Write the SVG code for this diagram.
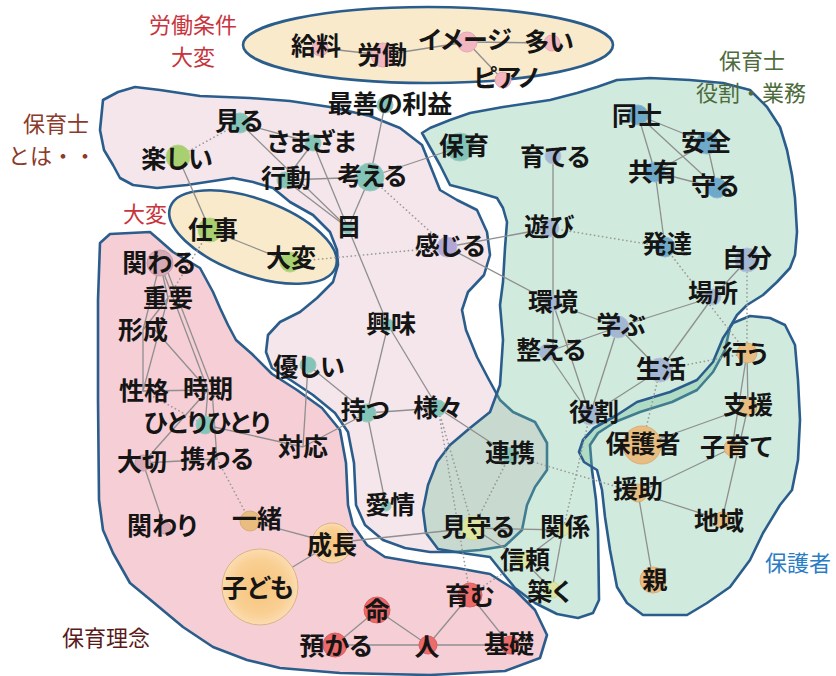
<svg xmlns="http://www.w3.org/2000/svg" width="836" height="676" viewBox="0 0 836 676">
<defs>
<radialGradient id="gOr" cx="50%" cy="50%" r="50%">
<stop offset="0" stop-color="#f7c47c"/><stop offset="0.7" stop-color="#f9cf93"/><stop offset="1" stop-color="#fcdcb0"/>
</radialGradient>
</defs>
<style>
.reg{stroke:#2b5d8c;stroke-width:2.6;stroke-linejoin:round}
.e{stroke:#8f8f8f;stroke-width:1.3;fill:none}
.d{stroke:#9a9a9a;stroke-width:1.7;fill:none;stroke-dasharray:0.1 4;stroke-linecap:round}
text{font-family:"Noto Sans CJK JP","Noto Sans",sans-serif}
.t{font-size:25px;font-weight:700;fill:#151515;text-anchor:middle;font-feature-settings:"palt"}
.lb{font-size:22px;text-anchor:middle}
.teal{fill:#84c4b8;stroke:#9cc9bf}
.blu{fill:#6fa9c9;stroke:#8ab8d2}
.bg{fill:#a3b6d2;stroke:#b6c4da}
.grn{fill:#a8cf70;stroke:#b8d58a}
.pur{fill:#b0a7d6;stroke:#c0b8de}
.org{fill:#e9bd7f;stroke:#d9ad78}
.pnk{fill:#f2b6c1;stroke:#e4a7b3}
.red{fill:#ec6a6a;stroke:#d86060}
.ppk{fill:#d6aab4;stroke:#c89aa5}
.yg{fill:#dde6a0;stroke:#cfd990}
</style>
<g id="regions">
<path id="regA" class="reg" fill="#f4e6ea" d="M103,100 L118,92 L135,87 L160,90 L200,96 L250,98 L290,101 L330,107 L370,116 L400,128 L422,145 L430,165 L440,190 L457,200 L477,210 L487,232 L490,255 L484,275 L468,292 L462,310 L466,330 L477,357 L488,378 L500,400 L513,412 L535,422 L547,443 L547,470 L535,487 L527,505 L522,530 L505,546 L480,550 L455,552 L430,552 L405,548 L383,540 L365,525 L356,505 L354,463 L348,432 L335,413 L313,395 L292,381 L272,368 L266,352 L268,335 L280,322 L300,312 L317,298 L333,282 L338,265 L337,250 L330,232 L313,215 L290,202 L273,188 L253,182 L233,178 L187,185 L157,188 L133,185 L120,178 L113,165 L104,150 L100,130 Z"/>
<path id="regC" class="reg" fill="#f6ced5" d="M100,243 L110,234 L150,232 L157,238 L173,252 L200,268 L213,292 L220,308 L228,325 L236,340 L252,354 L272,374 L297,390 L322,408 L340,430 L346,463 L348,505 L353,525 L367,545 L385,557 L420,563 L457,568 L490,574 L515,590 L535,610 L547,635 L540,658 L505,671 L430,675 L340,673 L280,668 L247,660 L213,647 L183,627 L147,597 L130,583 L113,553 L103,530 L99,500 L98,400 L98,300 Z"/>
<ellipse id="regF" class="reg" fill="#f8eacb" cx="253" cy="237" rx="88" ry="38" transform="rotate(20 253 237)"/>
<path id="regB" class="reg" fill="#6fbf98" fill-opacity="0.33" d="M422,133 L430,128 L450,120 L470,113 L503,107 L550,100 L577,93 L597,87 L617,80 L650,78 L690,80 L723,83 L750,90 L767,107 L780,127 L787,150 L792,175 L795,198 L797,232 L795,255 L790,268 L777,282 L763,295 L747,305 L737,315 L730,327 L725,350 L713,372 L697,390 L672,402 L640,412 L615,422 L598,433 L590,445 L592,470 L596,500 L598,530 L599,600 L593,613 L578,618 L557,614 L535,603 L515,588 L502,572 L490,557 L462,553 L438,549 L426,533 L423,510 L428,485 L437,462 L450,445 L470,428 L490,412 L500,385 L503,340 L500,305 L503,282 L505,248 L507,222 L503,208 L497,198 L477,192 L450,185 L440,165 Z"/>
<path id="regD" class="reg" fill="#6fbf98" fill-opacity="0.33" d="M723,338 L733,323 L750,316 L770,318 L785,325 L795,345 L798,380 L800,420 L798,460 L792,490 L780,505 L763,533 L750,560 L730,587 L707,603 L687,615 L643,615 L627,603 L617,587 L610,550 L605,517 L602,490 L597,470 L584,462 L579,452 L583,440 L594,428 L617,415 L637,402 L670,392 L697,380 L713,362 Z"/>
<ellipse id="regE" class="reg" fill="#f8eacb" cx="428" cy="45" rx="185" ry="38"/>
</g>
<g id="labels">
<text class="lb" x="193" y="33" fill="#c8343c">労働条件</text>
<text class="lb" x="193" y="65" fill="#c8343c">大変</text>
<text class="lb" x="56" y="132" fill="#8b3b2b">保育士</text>
<text class="lb" x="52" y="164" fill="#8b3b2b">とは・・</text>
<text class="lb" x="145" y="222" fill="#c8343c">大変</text>
<text class="lb" x="752" y="69" fill="#4d6b3c">保育士</text>
<text class="lb" x="751" y="101" fill="#4d6b3c">役割・業務</text>
<text class="lb" x="798" y="571" fill="#2a7cc4">保護者</text>
<text class="lb" x="106" y="646" fill="#5a1a1a">保育理念</text>
</g>
<g id="connectors">
<line class="e" x1="320" y1="48" x2="383" y2="55"/>
<line class="e" x1="383" y1="55" x2="467" y2="42"/>
<line class="e" x1="467" y1="42" x2="550" y2="43"/>
<line class="e" x1="467" y1="42" x2="503" y2="80"/>
<line class="e" x1="178" y1="157" x2="210" y2="230"/>
<line class="e" x1="240" y1="123" x2="313" y2="143"/>
<line class="e" x1="240" y1="123" x2="348" y2="228"/>
<line class="e" x1="313" y1="143" x2="285" y2="180"/>
<line class="e" x1="313" y1="143" x2="348" y2="228"/>
<line class="e" x1="285" y1="180" x2="370" y2="177"/>
<line class="e" x1="285" y1="180" x2="348" y2="228"/>
<line class="e" x1="370" y1="177" x2="348" y2="228"/>
<line class="e" x1="370" y1="177" x2="385" y2="105"/>
<line class="e" x1="370" y1="177" x2="460" y2="147"/>
<line class="e" x1="348" y1="228" x2="388" y2="325"/>
<line class="e" x1="388" y1="325" x2="367" y2="413"/>
<line class="e" x1="388" y1="325" x2="438" y2="408"/>
<line class="e" x1="308" y1="365" x2="367" y2="413"/>
<line class="e" x1="308" y1="365" x2="303" y2="447"/>
<line class="e" x1="303" y1="447" x2="367" y2="413"/>
<line class="e" x1="367" y1="413" x2="438" y2="408"/>
<line class="e" x1="367" y1="413" x2="386" y2="506"/>
<line class="e" x1="438" y1="408" x2="510" y2="455"/>
<line class="e" x1="210" y1="230" x2="290" y2="262"/>
<line class="e" x1="447" y1="247" x2="550" y2="228"/>
<line class="e" x1="447" y1="247" x2="553" y2="303"/>
<line class="e" x1="553" y1="156" x2="553" y2="352"/>
<line class="e" x1="638" y1="115" x2="707" y2="143"/>
<line class="e" x1="638" y1="115" x2="655" y2="172"/>
<line class="e" x1="638" y1="115" x2="717" y2="188"/>
<line class="e" x1="707" y1="143" x2="655" y2="172"/>
<line class="e" x1="707" y1="143" x2="717" y2="188"/>
<line class="e" x1="655" y1="172" x2="717" y2="188"/>
<line class="e" x1="655" y1="172" x2="665" y2="247"/>
<line class="e" x1="747" y1="260" x2="713" y2="297"/>
<line class="e" x1="713" y1="297" x2="618" y2="327"/>
<line class="e" x1="713" y1="297" x2="660" y2="370"/>
<line class="e" x1="553" y1="303" x2="618" y2="327"/>
<line class="e" x1="553" y1="303" x2="590" y2="415"/>
<line class="e" x1="618" y1="327" x2="590" y2="415"/>
<line class="e" x1="618" y1="327" x2="660" y2="370"/>
<line class="e" x1="547" y1="352" x2="618" y2="327"/>
<line class="e" x1="547" y1="352" x2="590" y2="415"/>
<line class="e" x1="660" y1="370" x2="590" y2="415"/>
<line class="e" x1="747" y1="353" x2="748" y2="407"/>
<line class="e" x1="747" y1="353" x2="732" y2="448"/>
<line class="e" x1="748" y1="407" x2="642" y2="445"/>
<line class="e" x1="748" y1="407" x2="722" y2="520"/>
<line class="e" x1="732" y1="448" x2="638" y2="493"/>
<line class="e" x1="638" y1="493" x2="722" y2="520"/>
<line class="e" x1="638" y1="493" x2="653" y2="580"/>
<line class="e" x1="473" y1="528" x2="332" y2="543"/>
<line class="e" x1="473" y1="528" x2="563" y2="530"/>
<line class="e" x1="473" y1="528" x2="523" y2="560"/>
<line class="e" x1="563" y1="530" x2="523" y2="560"/>
<line class="e" x1="563" y1="530" x2="552" y2="590"/>
<line class="e" x1="523" y1="560" x2="552" y2="590"/>
<line class="e" x1="160" y1="263" x2="168" y2="298"/>
<line class="e" x1="160" y1="263" x2="143" y2="330"/>
<line class="e" x1="160" y1="263" x2="208" y2="390"/>
<line class="e" x1="165" y1="265" x2="213" y2="390"/>
<line class="e" x1="168" y1="298" x2="143" y2="330"/>
<line class="e" x1="143" y1="330" x2="143" y2="391"/>
<line class="e" x1="155" y1="330" x2="208" y2="390"/>
<line class="e" x1="168" y1="298" x2="143" y2="391"/>
<line class="e" x1="143" y1="391" x2="208" y2="390"/>
<line class="e" x1="208" y1="390" x2="205" y2="425"/>
<line class="e" x1="208" y1="390" x2="143" y2="463"/>
<line class="e" x1="212" y1="390" x2="217" y2="459"/>
<line class="e" x1="205" y1="425" x2="303" y2="447"/>
<line class="e" x1="143" y1="463" x2="217" y2="459"/>
<line class="e" x1="143" y1="463" x2="165" y2="528"/>
<line class="e" x1="250" y1="521" x2="332" y2="543"/>
<line class="e" x1="260" y1="587" x2="332" y2="543"/>
<line class="e" x1="377" y1="610" x2="335" y2="645"/>
<line class="e" x1="377" y1="610" x2="428" y2="645"/>
<line class="e" x1="335" y1="645" x2="428" y2="645"/>
<line class="e" x1="428" y1="645" x2="470" y2="595"/>
<line class="e" x1="428" y1="645" x2="510" y2="645"/>
<line class="e" x1="470" y1="595" x2="510" y2="645"/>
<line class="d" x1="178" y1="157" x2="240" y2="123"/>
<line class="d" x1="370" y1="177" x2="447" y2="247"/>
<line class="d" x1="290" y1="262" x2="447" y2="247"/>
<line class="d" x1="550" y1="228" x2="665" y2="247"/>
<line class="d" x1="665" y1="247" x2="747" y2="353"/>
<line class="d" x1="747" y1="260" x2="747" y2="353"/>
<line class="d" x1="660" y1="370" x2="747" y2="353"/>
<line class="d" x1="660" y1="370" x2="642" y2="445"/>
<line class="d" x1="438" y1="408" x2="473" y2="528"/>
<line class="d" x1="510" y1="455" x2="473" y2="528"/>
<line class="d" x1="510" y1="455" x2="638" y2="493"/>
<line class="d" x1="438" y1="408" x2="470" y2="595"/>
<line class="d" x1="210" y1="230" x2="168" y2="298"/>
<line class="d" x1="143" y1="391" x2="205" y2="425"/>
<line class="d" x1="217" y1="459" x2="250" y2="521"/>
<line class="d" x1="470" y1="595" x2="523" y2="560"/>
<line class="d" x1="590" y1="415" x2="563" y2="530"/>
</g>
<g id="n-kyuryo"><circle class="pnk" cx="320" cy="48" r="8"/><text class="t" x="316" y="55">給料</text></g>
<g id="n-roudou"><circle class="pnk" cx="383" cy="55" r="12"/><text class="t" x="382" y="64">労働</text></g>
<g id="n-image"><circle class="pnk" cx="467" cy="42" r="10"/><text class="t" x="465" y="49">イメージ</text></g>
<g id="n-ooi"><circle class="pnk" cx="552" cy="43" r="8"/><text class="t" x="549" y="51">多い</text></g>
<g id="n-piano"><circle class="pnk" cx="503" cy="80" r="8"/><text class="t" x="506" y="87">ピアノ</text></g>
<g id="n-miru"><circle class="teal" cx="240" cy="123" r="10"/><text class="t" x="239" y="130">見る</text></g>
<g id="n-tanoshii"><circle class="grn" cx="178" cy="157" r="12"/><text class="t" x="177" y="168">楽しい</text></g>
<g id="n-samazama"><circle class="teal" cx="313" cy="143" r="8"/><text class="t" x="312" y="151">さまざま</text></g>
<g id="n-koudou"><circle class="teal" cx="285" cy="180" r="8"/><text class="t" x="286" y="187">行動</text></g>
<g id="n-kangaeru"><circle class="teal" cx="370" cy="177" r="14"/><text class="t" x="372" y="185">考える</text></g>
<g id="n-saizen"><circle class="teal" cx="385" cy="105" r="8"/><text class="t" x="390" y="113">最善の利益</text></g>
<g id="n-me"><circle class="teal" cx="348" cy="228" r="6"/><text class="t" x="349" y="236">目</text></g>
<g id="n-kanjiru"><circle class="pur" cx="447" cy="247" r="10"/><text class="t" x="450" y="255">感じる</text></g>
<g id="n-kyoumi"><circle class="teal" cx="388" cy="325" r="6"/><text class="t" x="391" y="333">興味</text></g>
<g id="n-yasashii"><circle class="teal" cx="308" cy="365" r="8"/><text class="t" x="309" y="376">優しい</text></g>
<g id="n-motsu"><circle class="teal" cx="367" cy="413" r="9"/><text class="t" x="365" y="419">持つ</text></g>
<g id="n-samazama2"><circle class="teal" cx="438" cy="408" r="8"/><text class="t" x="438" y="417">様々</text></g>
<g id="n-aijou"><circle class="teal" cx="386" cy="506" r="5"/><text class="t" x="390" y="514">愛情</text></g>
<g id="n-taiou"><text class="t" x="303" y="456">対応</text></g>
<g id="n-renkei"><circle class="teal" cx="510" cy="455" r="8"/><text class="t" x="510" y="462">連携</text></g>
<g id="n-hoiku"><circle class="teal" cx="460" cy="147" r="14"/><text class="t" x="464" y="155">保育</text></g>
<g id="n-sodateru"><circle class="bg" cx="553" cy="156" r="8"/><text class="t" x="555" y="166">育てる</text></g>
<g id="n-shigoto"><circle class="grn" cx="210" cy="230" r="12"/><text class="t" x="213" y="239">仕事</text></g>
<g id="n-taihen"><circle class="grn" cx="290" cy="262" r="10"/><text class="t" x="291" y="267">大変</text></g>
<g id="n-doushi"><circle class="blu" cx="638" cy="115" r="10"/><text class="t" x="637" y="125">同士</text></g>
<g id="n-anzen"><circle class="blu" cx="707" cy="143" r="11"/><text class="t" x="706" y="151">安全</text></g>
<g id="n-kyouyu"><circle class="blu" cx="655" cy="172" r="10"/><text class="t" x="653" y="181">共有</text></g>
<g id="n-mamoru"><circle class="blu" cx="717" cy="188" r="10"/><text class="t" x="715" y="195">守る</text></g>
<g id="n-asobi"><circle class="bg" cx="550" cy="228" r="9"/><text class="t" x="549" y="236">遊び</text></g>
<g id="n-hattatsu"><circle class="blu" cx="665" cy="247" r="10"/><text class="t" x="667" y="253">発達</text></g>
<g id="n-jibun"><circle class="bg" cx="747" cy="260" r="12"/><text class="t" x="747" y="267">自分</text></g>
<g id="n-basho"><circle class="bg" cx="713" cy="297" r="8"/><text class="t" x="713" y="302">場所</text></g>
<g id="n-kankyou"><circle class="bg" cx="553" cy="303" r="8"/><text class="t" x="553" y="311">環境</text></g>
<g id="n-manabu"><circle class="bg" cx="618" cy="327" r="11"/><text class="t" x="621" y="334">学ぶ</text></g>
<g id="n-totonoeru"><circle class="bg" cx="547" cy="352" r="8"/><text class="t" x="551" y="359">整える</text></g>
<g id="n-seikatsu"><circle class="bg" cx="660" cy="370" r="12"/><text class="t" x="661" y="378">生活</text></g>
<g id="n-yakuwari"><circle class="bg" cx="590" cy="415" r="10"/><text class="t" x="594" y="421">役割</text></g>
<g id="n-mimamoru"><circle class="yg" cx="473" cy="528" r="12"/><text class="t" x="478" y="536">見守る</text></g>
<g id="n-kankei"><circle class="yg" cx="563" cy="530" r="6"/><text class="t" x="565" y="536">関係</text></g>
<g id="n-shinrai"><circle class="yg" cx="523" cy="560" r="8"/><text class="t" x="525" y="569">信頼</text></g>
<g id="n-kizuku"><circle class="yg" cx="552" cy="590" r="8"/><text class="t" x="549" y="601">築く</text></g>
<g id="n-okonau"><circle class="org" cx="747" cy="353" r="10"/><text class="t" x="745" y="363">行う</text></g>
<g id="n-shien"><circle class="org" cx="748" cy="407" r="9"/><text class="t" x="748" y="414">支援</text></g>
<g id="n-hogosha"><circle class="org" cx="642" cy="445" r="19"/><text class="t" x="643" y="453">保護者</text></g>
<g id="n-kosodate"><circle class="org" cx="732" cy="448" r="8"/><text class="t" x="736" y="456">子育て</text></g>
<g id="n-enjo"><circle class="org" cx="638" cy="493" r="9"/><text class="t" x="638" y="498">援助</text></g>
<g id="n-chiiki"><circle class="org" cx="722" cy="520" r="8"/><text class="t" x="719" y="530">地域</text></g>
<g id="n-oya"><circle class="org" cx="653" cy="580" r="13"/><text class="t" x="655" y="589">親</text></g>
<g id="n-kakawaru"><circle class="ppk" cx="160" cy="263" r="13"/><text class="t" x="159" y="272">関わる</text></g>
<g id="n-juuyou"><text class="t" x="168" y="307">重要</text></g>
<g id="n-keisei"><text class="t" x="143" y="339">形成</text></g>
<g id="n-seikaku"><text class="t" x="144" y="400">性格</text></g>
<g id="n-jiki"><text class="t" x="208" y="398">時期</text></g>
<g id="n-hitori"><circle class="teal" cx="205" cy="425" r="9"/><text class="t" x="207" y="432">ひとりひとり</text></g>
<g id="n-taisetsu"><circle class="ppk" cx="143" cy="463" r="8"/><text class="t" x="142" y="471">大切</text></g>
<g id="n-tazusawaru"><text class="t" x="217" y="468">携わる</text></g>
<g id="n-kakawari"><circle class="ppk" cx="165" cy="528" r="6"/><text class="t" x="162" y="535">関わり</text></g>
<g id="n-issho"><circle class="org" cx="250" cy="521" r="10"/><text class="t" x="257" y="528">一緒</text></g>
<g id="n-kodomo"><circle fill="url(#gOr)" stroke="#d9b48a" cx="260" cy="587" r="38"/><text class="t" x="258" y="597">子ども</text></g>
<g id="n-seichou"><circle fill="url(#gOr)" stroke="#d9b48a" cx="332" cy="543" r="20"/><text class="t" x="332" y="554">成長</text></g>
<g id="n-inochi"><circle class="red" cx="377" cy="610" r="13"/><text class="t" x="377" y="620">命</text></g>
<g id="n-azukaru"><circle class="red" cx="335" cy="645" r="12"/><text class="t" x="336" y="655">預かる</text></g>
<g id="n-hito"><circle class="red" cx="428" cy="645" r="9"/><text class="t" x="427" y="656">人</text></g>
<g id="n-hagukumu"><circle class="red" cx="470" cy="595" r="12"/><text class="t" x="470" y="605">育む</text></g>
<g id="n-kiso"><circle class="red" cx="510" cy="645" r="9"/><text class="t" x="509" y="653">基礎</text></g>
</svg>
